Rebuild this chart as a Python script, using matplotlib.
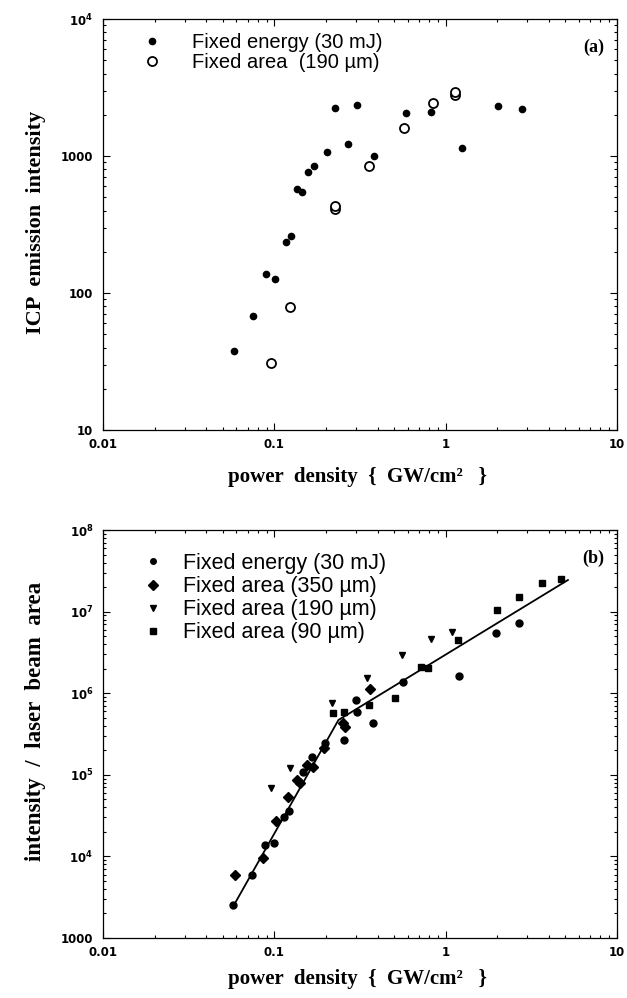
import matplotlib
matplotlib.use("Agg")
import matplotlib.pyplot as plt
from matplotlib.lines import Line2D
from matplotlib.ticker import LogLocator, NullFormatter

plt.rcParams['mathtext.fontset'] = 'dejavusans'

# ---------------- Panel (a) data ----------------
a_energy_x = [0.058, 0.0753, 0.0893, 0.1015, 0.117, 0.125, 0.135, 0.145, 0.158, 0.171,
              0.203, 0.225, 0.270, 0.305, 0.381, 0.583, 0.817, 1.24, 2.03, 2.78]
a_energy_y = [37.5, 67.6, 138, 127, 237, 262, 571, 548, 760, 850,
              1075, 2228, 1230, 2368, 1000, 2070, 2084, 1150, 2330, 2215]
a_area_x = [0.0957, 0.1236, 0.225, 0.225, 0.358, 0.568, 0.843, 1.13, 1.13]
a_area_y = [31.0, 78.7, 410, 435, 850, 1610, 2425, 2800, 2950]

# ---------------- Panel (b) data ----------------
b_energy_x = [0.0573, 0.0741, 0.0882, 0.0991, 0.1144, 0.1224, 0.1472, 0.1662, 0.1977,
              0.2542, 0.2977, 0.3017, 0.3757, 0.5627, 1.203, 1.961, 2.661]
b_energy_y = [2540, 5920, 13800, 14600, 30700, 36000, 109000, 164000, 243000,
              267000, 825000, 593000, 428000, 1383000, 1625000, 5420000, 7310000]
b_350_x = [0.0592, 0.0862, 0.1027, 0.1203, 0.1358, 0.1419, 0.1553, 0.1675, 0.1961,
           0.2522, 0.2601, 0.363]
b_350_y = [5920, 9640, 27500, 53500, 86400, 80000, 131800, 123600, 211000,
           428000, 382000, 1120000]
b_190_x = [0.0957, 0.1227, 0.2175, 0.3485, 0.553, 0.8249, 1.084]
b_190_y = [69800, 120000, 765000, 1523000, 2940000, 4610000, 5670000]
b_90_x = [0.2193, 0.2542, 0.358, 0.5032, 0.7141, 0.7922, 1.187, 1.987, 2.661, 3.643, 4.706]
b_90_y = [567000, 593000, 711000, 881000, 2110000, 2020000, 4490000, 10460000,
          15000000, 22600000, 25100000]
fit_x = [0.0568, 0.2367, 5.17]
fit_y = [2330, 470000, 2.44e7]

x_ticks = [0.01, 0.1, 1, 10]
x_labels = ["0.01", "0.1", "1", "10"]
a_yticks = [10, 100, 1000, 1e4]
a_ylabels = ["10", "100", "1000", r"$\mathbf{10^4}$"]
b_yticks = [1e3, 1e4, 1e5, 1e6, 1e7, 1e8]
b_ylabels = ["1000", r"$\mathbf{10^4}$", r"$\mathbf{10^5}$", r"$\mathbf{10^6}$",
             r"$\mathbf{10^7}$", r"$\mathbf{10^8}$"]

fig = plt.figure(figsize=(6.27, 9.98), dpi=100)
axa = fig.add_axes([0.1643, 0.5691, 0.8198, 0.4118])
axb = fig.add_axes([0.1643, 0.0601, 0.8198, 0.4088])

tickfont = dict(family='DejaVu Sans', weight='bold', size=8.5)
labfont = dict(family='Liberation Serif', weight='bold', size=15)
ylabfont_a = dict(family='Liberation Serif', weight='bold', size=16)
ylabfont_b = dict(family='Liberation Serif', weight='bold', size=16.5)
panfont = dict(family='Liberation Serif', weight='bold', size=13)
legfont_a = dict(family='Liberation Sans', size=14.5)
legfont_b = dict(family='Liberation Sans', size=15.5)


def style(ax, ymin, ymax, yticks, ylabels):
    ax.set_xscale('log')
    ax.set_yscale('log')
    ax.set_xlim(0.01, 10)
    ax.set_ylim(ymin, ymax)
    ax.set_xticks(x_ticks)
    ax.set_xticklabels(x_labels, fontdict=tickfont)
    ax.set_yticks(yticks)
    ax.set_yticklabels(ylabels, fontdict=tickfont)
    ax.xaxis.set_minor_locator(LogLocator(base=10, subs=range(2, 10), numticks=20))
    ax.yaxis.set_minor_locator(LogLocator(base=10, subs=range(2, 10), numticks=20))
    ax.xaxis.set_minor_formatter(NullFormatter())
    ax.yaxis.set_minor_formatter(NullFormatter())
    ax.tick_params(which='both', direction='in', top=True, right=True, width=0.8)
    ax.tick_params(which='major', length=5)
    ax.tick_params(which='minor', length=2.5)
    ax.tick_params(axis='x', which='major', pad=6)
    ax.tick_params(axis='y', which='major', pad=7)
    for s in ax.spines.values():
        s.set_linewidth(0.9)


# ---------- (a) ----------
style(axa, 10, 1e4, a_yticks, a_ylabels)
axa.plot(a_energy_x, a_energy_y, 'o', color='black', ms=4.5, ls='none')
axa.plot(a_area_x, a_area_y, 'o', mfc='white', mec='black', mew=1.3, ms=6.5, ls='none')
ha = [Line2D([], [], marker='o', color='black', ms=4.5, ls='none'),
      Line2D([], [], marker='o', mfc='white', mec='black', mew=1.3, ms=6.5, ls='none')]
axa.legend(ha, ["Fixed energy (30 mJ)", "Fixed area  (190 \u00b5m)"],
           loc='upper left', bbox_to_anchor=(0.06, 0.985), frameon=False,
           prop=legfont_a, handlelength=1.0, handletextpad=1.5, labelspacing=0.05,
           borderaxespad=0)
axa.text(0.975, 0.93, "(a)", transform=axa.transAxes, ha='right', va='center',
         **panfont)
axa.set_xlabel("power  density  {  GW/cm\u00b2   }", fontdict=labfont)
axa.xaxis.set_label_coords(0.494, -0.09)
axa.set_ylabel("ICP  emission  intensity", fontdict=ylabfont_a)
axa.yaxis.set_label_coords(-0.11, 0.505)

# ---------- (b) ----------
style(axb, 1e3, 1e8, b_yticks, b_ylabels)
axb.plot(fit_x, fit_y, '-', color='black', lw=1.3)
axb.plot(b_energy_x, b_energy_y, 'o', color='black', ms=5, ls='none')
axb.plot(b_350_x, b_350_y, 'D', color='black', ms=5.5, ls='none')
axb.plot(b_190_x, b_190_y, 'v', color='black', ms=5, ls='none')
axb.plot(b_90_x, b_90_y, 's', color='black', ms=5, ls='none')
hb = [Line2D([], [], marker='o', color='black', ms=4, ls='none'),
      Line2D([], [], marker='D', color='black', ms=5, ls='none'),
      Line2D([], [], marker='v', color='black', ms=4.5, ls='none'),
      Line2D([], [], marker='s', color='black', ms=4.5, ls='none')]
axb.legend(hb, ["Fixed energy (30 mJ)", "Fixed area (350 \u00b5m)",
                "Fixed area (190 \u00b5m)", "Fixed area (90 \u00b5m)"],
           loc='upper left', bbox_to_anchor=(0.06, 0.965), frameon=False,
           prop=legfont_b, handlelength=1.0, handletextpad=0.9, labelspacing=0.1,
           borderaxespad=0)
axb.text(0.975, 0.93, "(b)", transform=axb.transAxes, ha='right', va='center',
         **panfont)
axb.set_xlabel("power  density  {  GW/cm\u00b2   }", fontdict=labfont)
axb.xaxis.set_label_coords(0.494, -0.075)
axb.set_ylabel("intensity  /  laser  beam  area", fontdict=ylabfont_b)
axb.yaxis.set_label_coords(-0.11, 0.53)

fig.savefig("out.png", dpi=100)
